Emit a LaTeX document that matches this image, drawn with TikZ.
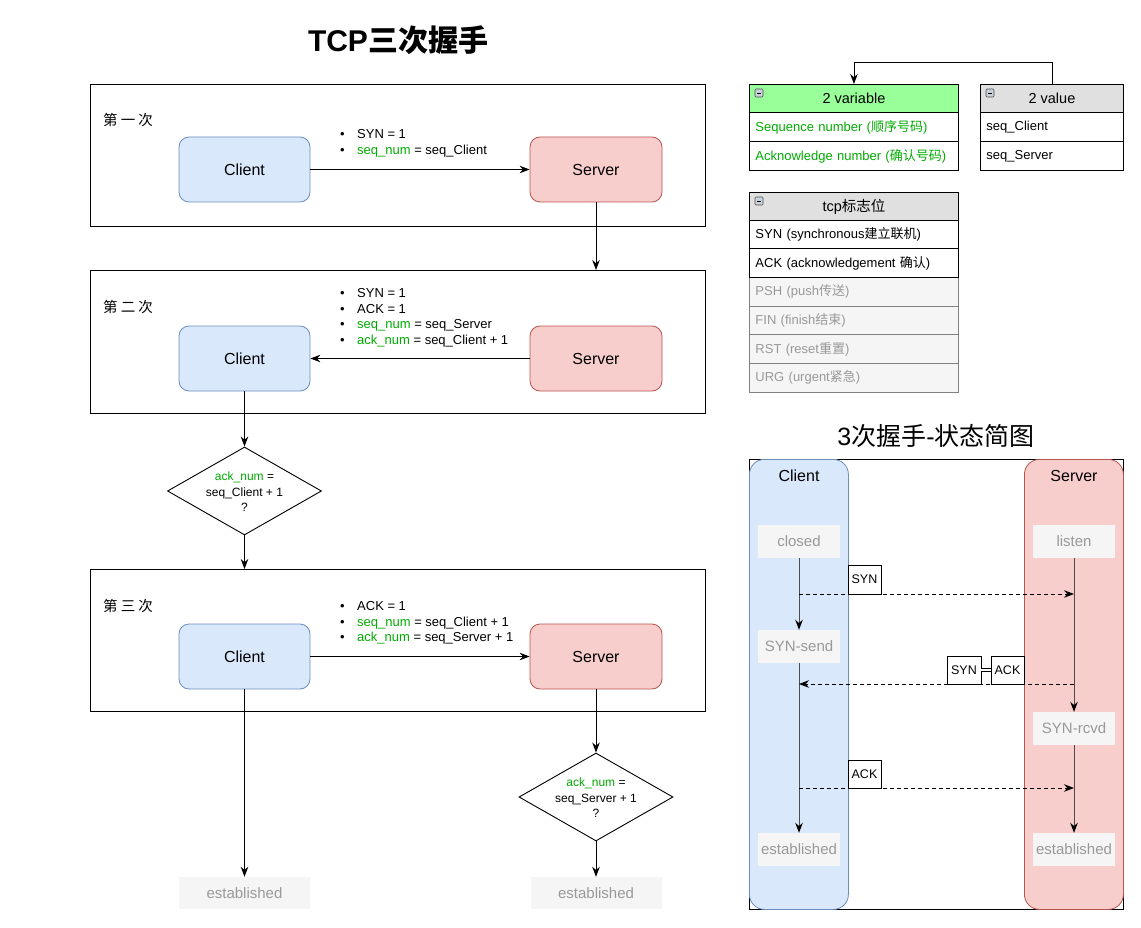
\documentclass[tikz,border=0pt]{standalone}
\usepackage{fontspec}
\setmainfont{Liberation Sans}
\newfontfamily\cjk{Noto Sans CJK SC}
\usetikzlibrary{arrows.meta,shapes.geometric}
\definecolor{cfill}{HTML}{DAE8FC}
\definecolor{cdraw}{HTML}{6C8EBF}
\definecolor{sfill}{HTML}{F8CECC}
\definecolor{sdraw}{HTML}{B85450}
\definecolor{gfill}{HTML}{F5F5F5}
\definecolor{gtext}{HTML}{999999}
\definecolor{gline}{HTML}{808080}
\definecolor{hgrey}{HTML}{E0E0E0}
\definecolor{hgreen}{HTML}{99FF99}
\definecolor{gr}{HTML}{00AA00}
\definecolor{ln}{HTML}{4D4D4D}
\definecolor{icon}{HTML}{C9D2DC}
\newcommand\zh[1]{{\cjk #1}}
\newcommand\bul{\makebox[17pt][l]{\textbullet}}
\newcommand\g[1]{\textcolor{gr}{#1}}
\tikzset{
  frame/.style={draw=black, line width=0.9pt, anchor=north west, inner sep=0},
  cli/.style={draw=cdraw, fill=cfill, rounded corners=10pt, minimum width=131, minimum height=65, inner sep=0, line width=0.8pt, font=\fontsize{16}{19}\selectfont},
  srv/.style={draw=sdraw, fill=sfill, rounded corners=10pt, minimum width=132, minimum height=65, inner sep=0, line width=0.8pt, font=\fontsize{16}{19}\selectfont},
  est/.style={fill=gfill, text=gtext, minimum width=131, minimum height=32, inner sep=0, font=\fontsize{15}{18}\selectfont},
  arr/.style={-{Stealth[length=10pt,width=7.5pt]}, line width=0.9pt},
  bl/.style={anchor=base west, inner sep=0, font=\fontsize{13}{15.5}\selectfont},
  stage/.style={inner sep=0, font=\cjk\fontsize{14.5}{16}\selectfont},
  dia/.style={shape=diamond, draw, minimum width=154, minimum height=88, inner sep=0, line width=0.9pt},
  dtext/.style={align=center, inner sep=0, font=\fontsize{12}{15.5}\selectfont},
  hdr/.style={draw, anchor=north west, minimum height=28, inner sep=0, line width=0.9pt, font=\fontsize{14.5}{17}\selectfont},
  row/.style={draw, anchor=north west, minimum height=29, inner xsep=6pt, inner ysep=0, align=left, line width=0.9pt, font=\fontsize{13}{15}\selectfont},
  greyrow/.style={row, draw=gline, fill=gfill, text=gtext, minimum height=28.67},
  lane/.style={rounded corners=15pt, minimum width=99, minimum height=450, anchor=north west, inner sep=0, line width=0.8pt},
  lanetxt/.style={inner sep=0, font=\fontsize{16}{19}\selectfont},
  st/.style={fill=gfill, text=gtext, minimum width=82, minimum height=33, inner sep=0, font=\fontsize{15}{18}\selectfont},
  sarr/.style={draw=ln, line width=0.9pt, -{Stealth[length=10pt,width=7.5pt]}, arrows={[color=black]}},
  darr/.style={line width=0.9pt, dash pattern=on 4pt off 3pt, -{Stealth[length=10pt,width=7.5pt]}},
  lab/.style={draw, fill=white, minimum width=33, minimum height=29, inner sep=0, line width=0.9pt, font=\fontsize{12.5}{15}\selectfont},
}
\begin{document}
\begin{tikzpicture}[x=1pt,y=-1pt]
\useasboundingbox (0,0) rectangle (1141,928);
% title
\node[font=\bfseries\fontsize{30}{34}\selectfont] (title) at (398,40) {TCP\zh{三次握手}};

% ---- step 1
\node[frame, minimum width=615, minimum height=142] (f1) at (90,84) {};
\node[stage] (t1) at (128,120) {第 一 次};
\node[cli] (c1) at (244.5,169.5) {Client};
\node[srv] (s1) at (596,169.5) {Server};
\node[bl] (l1a) at (340,138.6) {\bul SYN = 1};
\node[bl] (l1b) at (340,154.6) {\bul\g{seq\_num} = seq\_Client};
\draw[arr] (c1) -- (s1);
\draw[arr] (s1.south) -- (s1.south |- 0,270);

% ---- step 2
\node[frame, minimum width=615, minimum height=143] (f2) at (90,270) {};
\node[stage] (t2) at (128,307) {第 二 次};
\node[cli] (c2) at (244.5,358.5) {Client};
\node[srv] (s2) at (596,358.5) {Server};
\node[bl] (l2a) at (340,297.6) {\bul SYN = 1};
\node[bl] (l2b) at (340,313.1) {\bul ACK = 1};
\node[bl] (l2c) at (340,328.6) {\bul\g{seq\_num} = seq\_Server};
\node[bl] (l2d) at (340,344.1) {\bul\g{ack\_num} = seq\_Client + 1};
\draw[arr] (s2) -- (c2);

% diamond 1
\node[dia] (d1) at (244.5,491) {};
\node[dtext] (d1t) at (244.5,492) {\g{ack\_num} =\\seq\_Client + 1\\?};
\draw[arr] (c2.south) -- (d1.north);
\draw[arr] (d1.south) -- (d1.south |- 0,569);

% ---- step 3
\node[frame, minimum width=615, minimum height=142] (f3) at (90,569) {};
\node[stage] (t3) at (128,606) {第 三 次};
\node[cli] (c3) at (244.5,656.5) {Client};
\node[srv] (s3) at (596,656.5) {Server};
\node[bl] (l3a) at (340,610.6) {\bul ACK = 1};
\node[bl] (l3b) at (340,626.1) {\bul\g{seq\_num} = seq\_Client + 1};
\node[bl] (l3c) at (340,641.6) {\bul\g{ack\_num} = seq\_Server + 1};
\draw[arr] (c3) -- (s3);

\node[est] (e1) at (244.5,893) {established};
\node[dia] (d2) at (596,797) {};
\node[dtext] (d2t) at (596,798) {\g{ack\_num} =\\seq\_Server + 1\\?};
\node[est] (e2) at (596,893) {established};
\draw[arr] (c3.south) -- (e1.north);
\draw[arr] (s3.south) -- (d2.north);
\draw[arr] (d2.south) -- (e2.north);

% ---- tables
\node[hdr, fill=hgreen, minimum width=209] (v0) at (749,84) {2 variable};
\node[row, text width=197pt, text=gr] (v1) at (749,112) {Sequence number (\zh{顺序号码})};
\node[row, text width=197pt, text=gr] (v2) at (749,141) {Acknowledge number (\zh{确认号码})};
\node[hdr, fill=hgrey, minimum width=143] (w0) at (980,84) {2 value};
\node[row, text width=131pt] (w1) at (980,112) {seq\_Client};
\node[row, text width=131pt] (w2) at (980,141) {seq\_Server};
\draw[arr] (w0.north) -- ++(0,-22) -| (v0.north);

\node[hdr, fill=hgrey, minimum width=209] (k0) at (749,192) {tcp\zh{标志位}};
\node[greyrow, text width=197pt] (k3) at (749,277) {PSH (push\zh{传送})};
\node[greyrow, text width=197pt] (k4) at (749,305.67) {FIN (finish\zh{结束})};
\node[greyrow, text width=197pt] (k5) at (749,334.33) {RST (reset\zh{重置})};
\node[greyrow, text width=197pt] (k6) at (749,363) {URG (urgent\zh{紧急})};
\node[row, text width=197pt, minimum height=28.5] (k1) at (749,220) {SYN (synchronous\zh{建立联机})};
\node[row, text width=197pt, minimum height=28.5] (k2) at (749,248.5) {ACK (acknowledgement \zh{确认})};
% header icons
\foreach \ix/\iy in {755/89, 986/89, 755/197}{
  \draw[draw=ln, fill=icon, rounded corners=1pt, line width=0.6pt] (\ix,\iy) rectangle ++(8,8);
  \draw[line width=0.8pt] (\ix+2,\iy+4) -- ++(4,0);
}

% ---- state diagram
\node[font=\fontsize{25}{30}\selectfont] (t4) at (936,436) {3\zh{次握手}-\zh{状态简图}};
\node[frame, minimum width=374, minimum height=450] (sd) at (749,459) {};
\node[lane, draw=cdraw, fill=cfill] (lc) at (749,459) {};
\node[lane, draw=sdraw, fill=sfill] (ls) at (1024,459) {};
\node[lanetxt] (lct) at (799,476) {Client};
\node[lanetxt] (lst) at (1074,476) {Server};

\node[st] (closed) at (799,541.5) {closed};
\node[st] (synsend) at (799,646.5) {SYN-send};
\node[st] (estc) at (799,849.5) {established};
\node[st] (listen) at (1074,541.5) {listen};
\node[st] (synrcvd) at (1074,728.5) {SYN-rcvd};
\node[st] (ests) at (1074,849.5) {established};

\draw[sarr] (closed) -- (synsend);
\draw[sarr] (synsend) -- (estc);
\draw[sarr] (listen) -- (synrcvd);
\draw[sarr] (synrcvd) -- (ests);

\coordinate (a1) at (799,594);
\coordinate (b1) at (1074,594);
\coordinate (a2) at (799,684);
\coordinate (b2) at (1074,684);
\coordinate (a3) at (799,788);
\coordinate (b3) at (1074,788);
\draw[darr] (a1) -- (b1);
\draw[darr] (b2) -- (a2);
\draw[darr] (a3) -- (b3);

\node[lab] (syn1) at (864.5,579.5) {SYN};
\node[lab, minimum width=34, minimum height=28] (syn2) at (964,670) {SYN};
\node[lab, minimum height=28] (ack2) at (1007.5,670) {ACK};
\node[lab, minimum height=28] (ack3) at (864.5,774) {ACK};
\draw[double, double distance=2.5pt, line width=0.7pt] (syn2) -- (ack2);
\end{tikzpicture}
\end{document}
